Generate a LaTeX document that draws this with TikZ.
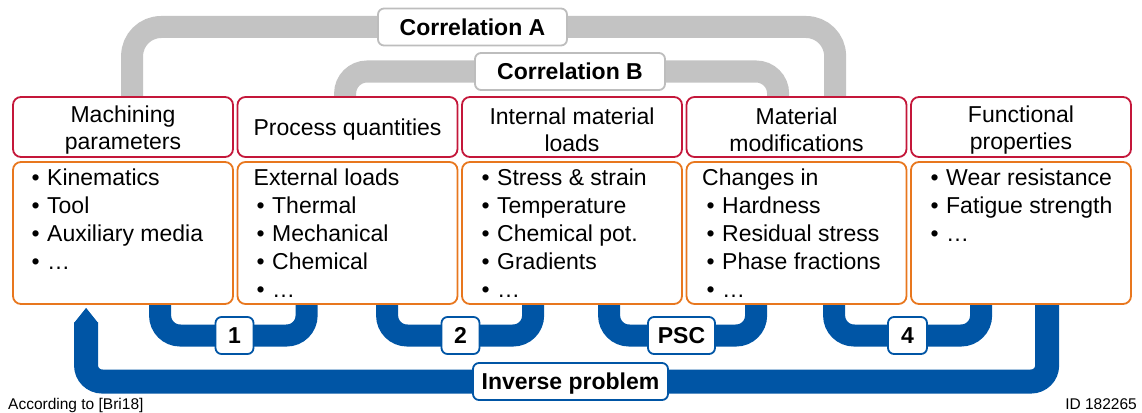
\documentclass[tikz,border=0pt]{standalone}
\usepackage{fontspec}
\setmainfont{Liberation Sans}
\usetikzlibrary{backgrounds,calc}

\definecolor{hdrred}{HTML}{C4173A}
\definecolor{lstorange}{HTML}{E8771E}
\definecolor{pipeblue}{HTML}{0055A5}
\definecolor{pipegray}{HTML}{C3C3C3}
\definecolor{tagline}{HTML}{BDBDBD}

% bullet item with a hanging indent
\newcommand{\itm}[1]{\makebox[15.5pt][l]{\textbullet}#1}

\begin{document}
\begin{tikzpicture}[x=1pt,y=-1pt,
  hdrbox/.style={draw=hdrred, line width=1.8pt, fill=white, rounded corners=8pt,
    minimum width=220pt, minimum height=60pt, inner sep=0pt},
  lstbox/.style={draw=lstorange, line width=1.8pt, fill=white, rounded corners=8pt,
    minimum width=220pt, minimum height=142pt, inner sep=0pt},
  hdrtext/.style={align=center, inner sep=0pt, font=\fontsize{23}{27}\selectfont},
  lsttext/.style={align=left, anchor=north west, inner sep=0pt, font=\fontsize{23}{28}\selectfont},
  graytag/.style={draw=tagline, line width=1.8pt, fill=white, rounded corners=6pt,
    minimum height=37pt, inner xsep=6pt, text height=16.5pt, text depth=0pt,
    font=\bfseries\fontsize{23}{27}\selectfont},
  bluetag/.style={draw=pipeblue, line width=1.8pt, fill=white, rounded corners=6pt,
    minimum height=37pt, inner xsep=6pt, text height=16.5pt, text depth=0pt,
    font=\bfseries\fontsize{23}{27}\selectfont},
  graypipe/.style={draw=pipegray, line width=22pt, line cap=butt},
  bluepipe/.style={draw=pipeblue, line width=22pt, line cap=butt, rounded corners=20pt},
  footnote/.style={inner sep=0pt, font=\fontsize{15.5}{18}\selectfont}
]
\useasboundingbox (0,0) rectangle (1142,412);

% header boxes
\node[hdrbox] (h1) at (123,127) {};
\node[hdrbox] (h2) at (347.5,127) {};
\node[hdrbox] (h3) at (572,127) {};
\node[hdrbox] (h4) at (796.5,127) {};
\node[hdrbox] (h5) at (1021,127) {};

\node[hdrtext] (t1) at (123,129.8) {Machining\\parameters};
\node[hdrtext] (t2) at (347.5,129.8) {Process quantities};
\node[hdrtext] (t3) at (572,129.8) {Internal material\\loads};
\node[hdrtext] (t4) at (796.5,129.8) {Material\\modifications};
\node[hdrtext] (t5) at (1021,129.8) {Functional\\properties};

% content boxes
\node[lstbox] (o1) at (123,233) {};
\node[lstbox] (o2) at (347.5,233) {};
\node[lstbox] (o3) at (572,233) {};
\node[lstbox] (o4) at (796.5,233) {};
\node[lstbox] (o5) at (1021,233) {};

\node[lsttext] (l1) at (31.5,165.4) {\strut\itm{Kinematics}\\\itm{Tool}\\\itm{Auxiliary media}\\\itm{\dots}};
\node[lsttext] (l2) at (253.5,165.4) {\strut External loads\\\hspace*{3pt}\itm{Thermal}\\\hspace*{3pt}\itm{Mechanical}\\\hspace*{3pt}\itm{Chemical}\\\hspace*{3pt}\itm{\dots}};
\node[lsttext] (l3) at (481.5,165.4) {\strut\itm{Stress \& strain}\\\itm{Temperature}\\\itm{Chemical pot.}\\\itm{Gradients}\\\itm{\dots}};
\node[lsttext] (l4) at (702,165.4) {\strut Changes in\\\hspace*{4.5pt}\itm{Hardness}\\\hspace*{4.5pt}\itm{Residual stress}\\\hspace*{4.5pt}\itm{Phase fractions}\\\hspace*{4.5pt}\itm{\dots}};
\node[lsttext] (l5) at (930.5,165.4) {\strut\itm{Wear resistance}\\\itm{Fatigue strength}\\\itm{\dots}};

% correlation tags
\node[graytag, minimum width=189pt] (ca) at (472.5,27) {Correlation A};
\node[graytag, minimum width=190pt] (cb) at (570,71.5) {Correlation B};

% step tags
\node[bluetag, minimum width=38pt] (s1) at (234.5,335.5) {1};
\node[bluetag, minimum width=38pt] (s2) at (460.5,335.5) {2};
\node[bluetag, minimum width=67pt] (s3) at (681.5,335.5) {PSC};
\node[bluetag, minimum width=39pt] (s4) at (907.5,335.5) {4};
\node[bluetag, minimum width=195pt] (inv) at (570.5,381.5) {Inverse problem};

% footer
\node[footnote, anchor=base west] (src) at (8,409) {According to [Bri18]};
\node[footnote, anchor=base east] (fid) at (1137,409) {ID 182265};

\begin{scope}[on background layer]
  % correlations between the header boxes
  \draw[graypipe, rounded corners=29pt]
    ($(h1.north west)+(120,8)$) |- (ca.center) -| ($(h4.north west)+(149.5,8)$);
  \draw[graypipe, rounded corners=22pt]
    ($(h2.north west)+(108.5,8)$) |- (cb.center) -| ($(h4.north west)+(92.5,8)$);

  % forward steps between content boxes
  \draw[bluepipe] ($(o1.south west)+(148,-8)$) |- (s1.center) -| ($(o2.south west)+(70,-8)$);
  \draw[bluepipe] ($(o2.south west)+(150.5,-8)$) |- (s2.center) -| ($(o3.south west)+(72,-8)$);
  \draw[bluepipe] ($(o3.south west)+(148,-8)$) |- (s3.center) -| ($(o4.south west)+(70.5,-8)$);
  \draw[bluepipe] ($(o4.south west)+(148.5,-8)$) |- (s4.center) -| ($(o5.south west)+(71,-8)$);

  % inverse problem, back to the machining parameters
  \draw[draw=pipeblue, line width=24pt, line cap=butt, rounded corners=16pt]
    ($(o5.south west)+(137,-8)$) |- (inv.center) -| ($(o1.south west)+(74,17.5)$);
  \fill[pipeblue] ($(o1.south west)+(62,18)$) -- ($(o1.south west)+(74,3)$)
    -- ($(o1.south west)+(86,18)$) -- cycle;
\end{scope}
\end{tikzpicture}
\end{document}
